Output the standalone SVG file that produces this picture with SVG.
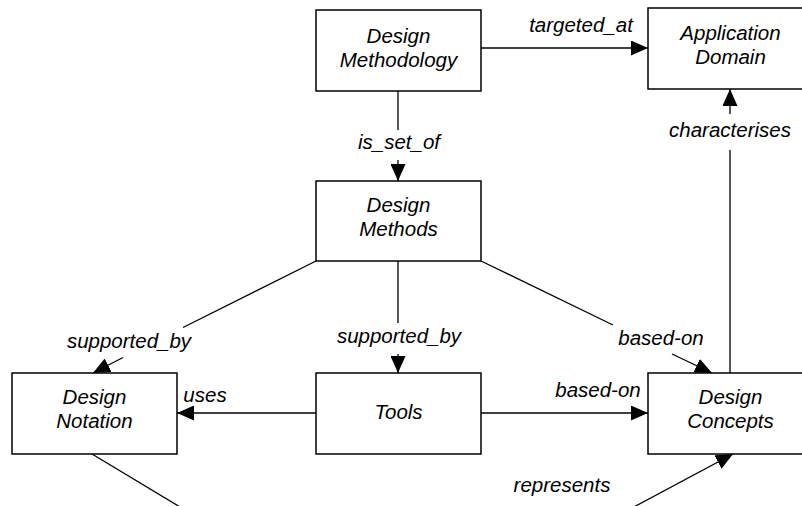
<svg xmlns="http://www.w3.org/2000/svg" width="802" height="506" viewBox="0 0 802 506">
  <style>
    .box { fill: #ffffff; stroke: #000000; stroke-width: 1.5; }
    .line { fill: none; stroke: #000000; stroke-width: 1.3; }
    .arrow { marker-end: url(#head); }
    text { font-family: "Liberation Sans", Arial, sans-serif; font-size: 20.5px; font-style: italic; fill: #000000; text-anchor: middle; }
  </style>
  <defs>
    <marker id="head" markerUnits="userSpaceOnUse" markerWidth="17" markerHeight="15" refX="17" refY="7.5" orient="auto">
      <path d="M0,0 L17,7.5 L0,15 z" fill="#000000"/>
    </marker>
  </defs>
  <rect width="802" height="506" fill="#ffffff"/>

  <!-- connectors -->
  <g id="connectors">
    <line class="line arrow" x1="481" y1="48" x2="648" y2="48"/>
    <line class="line" x1="398" y1="91" x2="398" y2="130"/>
    <line class="line arrow" x1="398" y1="160" x2="398" y2="181"/>
    <line class="line" x1="730" y1="373" x2="730" y2="150"/>
    <line class="line arrow" x1="730" y1="114" x2="730" y2="89"/>
    <line class="line" x1="316" y1="261" x2="183" y2="327.5"/>
    <line class="line arrow" x1="123" y1="357.5" x2="93" y2="373"/>
    <line class="line" x1="398" y1="261" x2="398" y2="323"/>
    <line class="line arrow" x1="398" y1="354" x2="398" y2="373"/>
    <line class="line" x1="481" y1="261" x2="613" y2="325"/>
    <line class="line arrow" x1="672" y1="354" x2="712" y2="373"/>
    <line class="line arrow" x1="316" y1="413" x2="177" y2="413"/>
    <line class="line arrow" x1="481" y1="413" x2="648" y2="413"/>
    <line class="line" x1="92" y1="454" x2="205" y2="522"/>
    <line class="line arrow" x1="602" y1="524" x2="733" y2="454"/>

    <text x="581" y="32">targeted_at</text>
    <text x="399" y="149">is_set_of</text>
    <text x="730" y="137">characterises</text>
    <text x="129" y="348">supported_by</text>
    <text x="399" y="343">supported_by</text>
    <text x="661" y="345">based-on</text>
    <text x="205" y="402">uses</text>
    <text x="598" y="397">based-on</text>
    <text x="562" y="492">represents</text>
  </g>

  <g id="design-methodology">
    <rect class="box" x="316" y="10" width="165" height="81"/>
    <text x="398.5" y="42.5">Design</text>
    <text x="398.5" y="66.5">Methodology</text>
  </g>
  <g id="application-domain">
    <rect class="box" x="648" y="8" width="165" height="81"/>
    <text x="730.5" y="40">Application</text>
    <text x="730.5" y="64">Domain</text>
  </g>
  <g id="design-methods">
    <rect class="box" x="316" y="181" width="165" height="80"/>
    <text x="398.5" y="211.5">Design</text>
    <text x="398.5" y="235.5">Methods</text>
  </g>
  <g id="design-notation">
    <rect class="box" x="12" y="373" width="165" height="81"/>
    <text x="94.5" y="403.5">Design</text>
    <text x="94.5" y="427.5">Notation</text>
  </g>
  <g id="tools">
    <rect class="box" x="316" y="373" width="165" height="81"/>
    <text x="398.5" y="418.5">Tools</text>
  </g>
  <g id="design-concepts">
    <rect class="box" x="648" y="373" width="165" height="81"/>
    <text x="730.5" y="403.5">Design</text>
    <text x="730.5" y="427.5">Concepts</text>
  </g>
</svg>
